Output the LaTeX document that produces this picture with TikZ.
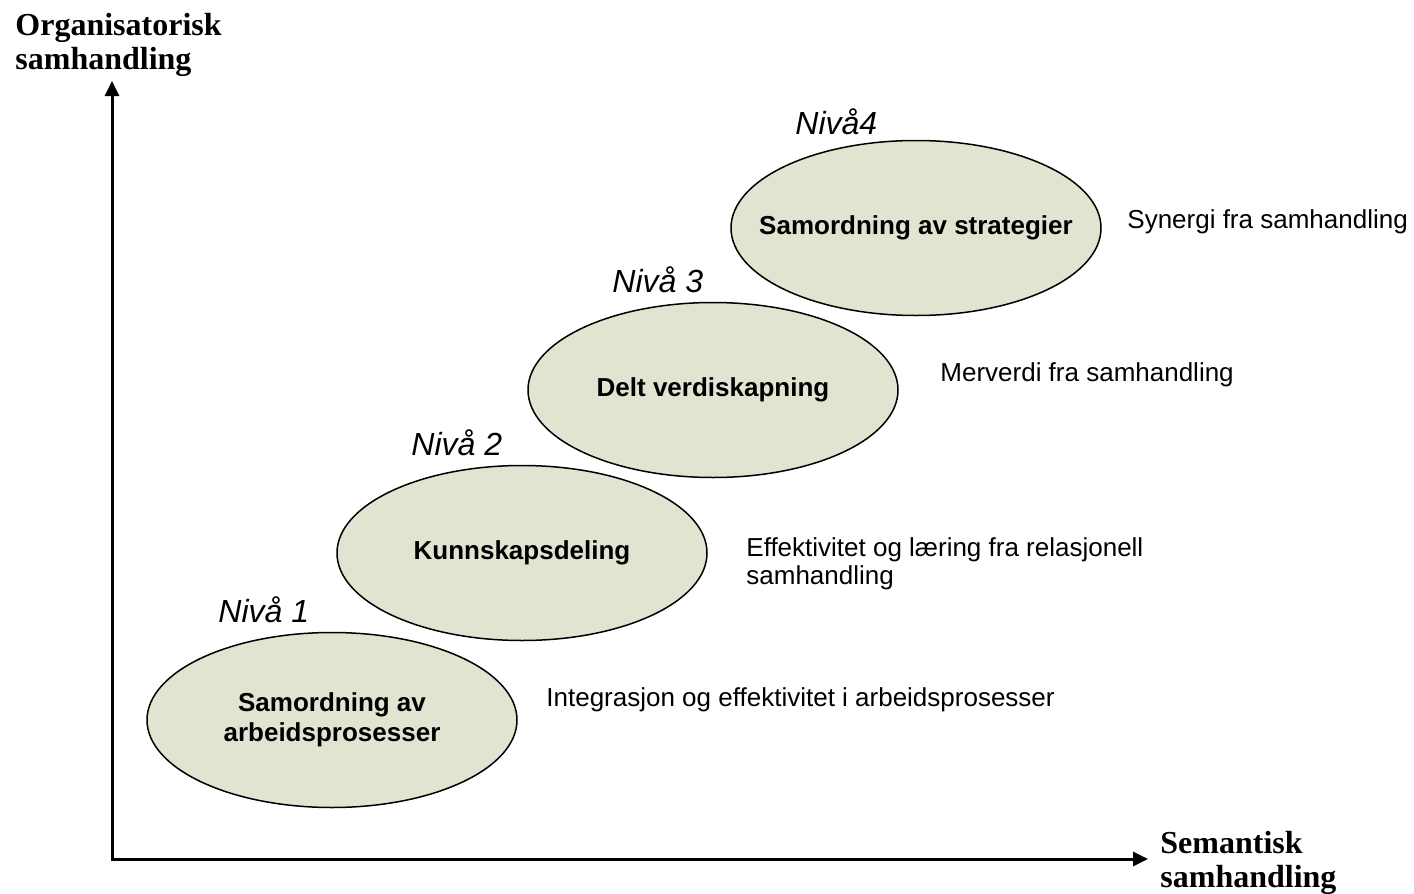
\documentclass[tikz,border=0pt]{standalone}
\usepackage{fontspec}
\setmainfont{Liberation Serif}
\setsansfont{Liberation Sans}
\usetikzlibrary{shapes.geometric,arrows.meta}
\definecolor{levelfill}{RGB}{227,227,210}
\tikzset{
  level/.style={ellipse,draw,fill=levelfill,line width=0.75pt,minimum width=185pt,minimum height=87.5pt,inner sep=0pt,align=center,font=\sffamily\bfseries\fontsize{13}{15}\selectfont},
  levelname/.style={anchor=west,inner sep=0pt,font=\sffamily\itshape\fontsize{16}{18}\selectfont},
  gain/.style={anchor=west,inner sep=0pt,align=left,font=\sffamily\fontsize{13}{14}\selectfont},
  axisname/.style={anchor=base west,inner sep=0pt,align=left,font=\bfseries\fontsize{16}{17}\selectfont},
  axistip/.tip={Triangle[length=7.5pt,width=7pt]}
}
\begin{document}
\begin{tikzpicture}[x=0.5pt,y=-0.5pt]
\useasboundingbox (0,0) rectangle (1414,894);
% axes
\coordinate (o) at (112,859);
\coordinate (ytip) at (112,81);
\coordinate (xtip) at (1148,859);
\draw [line width=1.5pt,axistip-axistip] (ytip) -- (o) -- (xtip);
\node [axisname] (yname) at (15,69) {Organisatorisk\\samhandling};
\node [axisname] (xname) at (1160,887) {Semantisk\\samhandling};
% levels
\node [level] (lvl1) at (332,720) {Samordning av\\arbeidsprosesser};
\node [level] (lvl2) at (522,553) {Kunnskapsdeling};
\node [level] (lvl3) at (713,390) {Delt verdiskapning};
\node [level,inner xsep=-16pt] (lvl4) at (916,228) {Samordning av strategier};
\node [levelname] (n1) at (218,610) {Nivå 1};
\node [levelname] (n2) at (411,443) {Nivå 2};
\node [levelname] (n3) at (612,280) {Nivå 3};
\node [levelname] (n4) at (795,122) {Nivå4};
% gains
\node [gain] (g1) at (546,700) {Integrasjon og effektivitet i arbeidsprosesser};
\node [gain] (g2) at (746,564) {Effektivitet og læring fra relasjonell\\samhandling};
\node [gain] (g3) at (940,375) {Merverdi fra samhandling};
\node [gain] (g4) at (1127,222) {Synergi fra samhandling};
\end{tikzpicture}
\end{document}
